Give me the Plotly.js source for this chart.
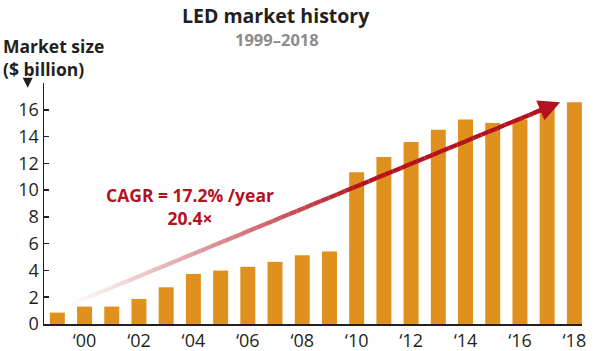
<!DOCTYPE html>
<html><head><meta charset="utf-8">
<script src="https://cdn.plot.ly/plotly-3.0.1.min.js"></script>
<style>html,body{margin:0;padding:0;background:#fff}#c{width:600px;height:351px}</style>
</head><body><div id="c"></div>
<script>
const years = [1999,2000,2001,2002,2003,2004,2005,2006,2007,2008,2009,2010,2011,2012,2013,2014,2015,2016,2017,2018];
const marketSize = [0.85,1.3,1.3,1.87,2.74,3.74,3.99,4.27,4.64,5.14,5.41,11.33,12.48,13.6,14.5,15.27,15.02,15.27,16.4,16.57];
const tickYears = [2000,2002,2004,2006,2008,2010,2012,2014,2016,2018];
const tickLabels = ['\u201800','\u201802','\u201804','\u201806','\u201808','\u201810','\u201812','\u201814','\u201816','\u201818'];
const arrowStart = [1999.27, 1.27];
const arrowEnd = [2017.48, 16.57];

const W=600,H=351,L=44.3,R=18.3,T=83.2,B=27.3;
const pw=W-L-R, ph=H-T-B;
const px=x=>(x-L)/pw, py=y=>(H-B-y)/ph;
const red='rgb(180,18,30)';
const font="'Open Sans', 'Noto Sans', sans-serif";

const shapes=[];
const N=60;
for(let i=0;i<N;i++){
  const t0=i/N,t1=(i+1)/N;
  const tm=(t0+t1)/2;
  const a=Math.min(1,Math.pow(tm/0.62,1.1));
  const x0=arrowStart[0]+(arrowEnd[0]-arrowStart[0])*t0*0.97;
  const x1=arrowStart[0]+(arrowEnd[0]-arrowStart[0])*t1*0.97;
  const y0=arrowStart[1]+(arrowEnd[1]-arrowStart[1])*t0*0.97;
  const y1=arrowStart[1]+(arrowEnd[1]-arrowStart[1])*t1*0.97;
  shapes.push({type:'line',xref:'x',yref:'y',x0,x1,y0,y1,layer:'above',
    line:{color:`rgba(180,18,30,${a.toFixed(3)})`,width:4.3}});
}
// small downward triangle under the axis title
shapes.push({type:'path',xref:'paper',yref:'paper',
  path:`M${px(23)},${py(78)} L${px(33)},${py(78)} L${px(28)},${py(88)} Z`,
  fillcolor:'#231f20',line:{width:0}});

const ang=Math.atan2(306.7-102.3,560-65);
const txt=(x,y,text,size,color,anchor,align)=>({x:px(x),y:py(y),xref:'paper',yref:'paper',text,showarrow:false,
  xanchor:anchor||'center',yanchor:'middle',align:align||'center',borderpad:0,font:{family:font,size,color}});
const annotations=[
 {x:arrowEnd[0],y:arrowEnd[1],xref:'x',yref:'y',showarrow:true,arrowhead:2,arrowsize:1.0,arrowwidth:4.3,arrowcolor:red,
  ax:-30*Math.cos(ang),ay:30*Math.sin(ang),text:'',standoff:0},
 txt(276,16,'<b>LED market history</b>',19.5,'#231f20'),
 txt(277,40,'<b>1999\u20132018</b>',16.5,'#8c8c8c'),
 txt(2,58,'<b>Market size</b><br><b>($ billion)</b>',17.5,'#231f20','left','left'),
 txt(190,206,'<b>CAGR = 17.2% /year</b><br><b>20.4\u00d7</b>',17.5,red)
];

Plotly.newPlot('c',[{
  type:'bar',x:years,y:marketSize,marker:{color:'#e0901d',line:{width:0}},hoverinfo:'skip'
}],{
  width:W,height:H,margin:{l:L,r:R,t:T,b:B,pad:0},
  paper_bgcolor:'#fff',plot_bgcolor:'#fff',bargap:0.45,showlegend:false,
  xaxis:{range:[1998.51,2018.28],tickvals:tickYears,ticktext:tickLabels,showgrid:false,zeroline:false,
    showline:true,linecolor:'#231f20',linewidth:1.5,ticks:'',tickfont:{family:font,size:18,color:'#231f20'},fixedrange:true},
  yaxis:{range:[0,18],tickvals:[0,2,4,6,8,10,12,14,16,18],ticktext:['0','2','4','6','8','10','12','14','16',''],
    showgrid:false,zeroline:false,showline:true,linecolor:'#231f20',linewidth:1.5,ticks:'inside',ticklen:5,tickwidth:1.5,tickcolor:'#231f20',
    tickfont:{family:font,size:18,color:'#231f20'},fixedrange:true},
  shapes,annotations
},{displayModeBar:false,staticPlot:true});
</script></body></html>
